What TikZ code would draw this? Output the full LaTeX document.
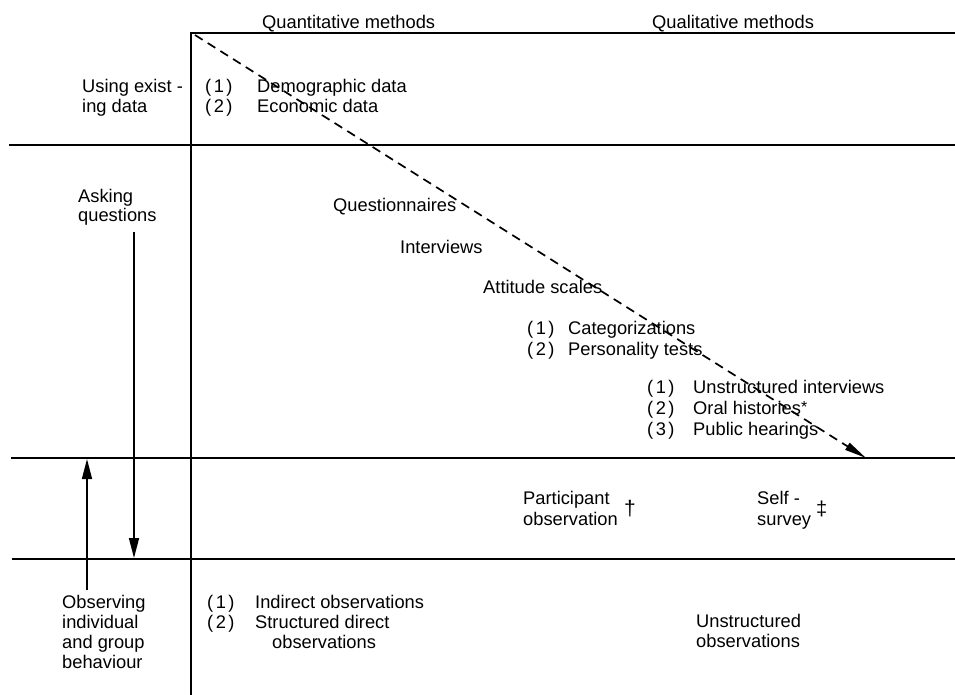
\documentclass[tikz,border=0pt]{standalone}
\usepackage{fontspec}
\setmainfont{Liberation Sans}
\usetikzlibrary{arrows.meta}
\newcommand{\nb}[1]{(\kern2.5pt#1\kern2.5pt)}
\begin{document}
\begin{tikzpicture}[x=1pt,y=-1pt,
  txt/.style={anchor=base west,inner sep=0pt,font=\fontsize{18.3}{21}\selectfont},
  grid/.style={line width=1.9pt,line cap=rect},
  vert/.style={line width=1.5pt,-{Triangle[length=20pt,width=10pt]}},
  diag/.style={line width=1.7pt,dash pattern=on 9pt off 6pt,-{Triangle[length=22pt,width=8pt]}}]
\useasboundingbox (0,0) rectangle (955,694);
% grid
\draw[grid] (191,694) -- (191,33) -- (955,33);
\draw[grid] (10,145) -- (955,145);
\draw[grid] (12,458) -- (955,458);
\draw[grid] (13,559) -- (955,559);
% headings
\node[txt] (quant) at (262,28) {Quantitative methods};
\node[txt] (qual) at (652,28) {Qualitative methods};
% row labels
\node[txt] (use1) at (82,92) {Using exist -};
\node[txt] (use2) at (82,112) {ing data};
\node[txt] (ask1) at (78,202) {Asking};
\node[txt] (ask2) at (78,221) {questions};
\node[txt] (obs1) at (62,608) {Observing};
\node[txt] (obs2) at (62,628) {individual};
\node[txt] (obs3) at (62,648) {and group};
\node[txt] (obs4) at (62,668) {behaviour};
% existing data
\node[txt] (n1a) at (205,92) {\nb{1}};
\node[txt] (demo) at (257,92) {Demographic data};
\node[txt] (n2a) at (205,112) {\nb{2}};
\node[txt] (econ) at (257,112) {Economic data};
% asking questions
\node[txt] (quest) at (333,211) {Questionnaires};
\node[txt] (interv) at (400,253) {Interviews};
\node[txt] (att) at (483,293) {Attitude scales};
\node[txt] (n1b) at (527,334) {\nb{1}};
\node[txt] (cat) at (568,334) {Categorizations};
\node[txt] (n2b) at (527,355) {\nb{2}};
\node[txt] (pers) at (568,355) {Personality tests};
\node[txt] (n1c) at (647,393) {\nb{1}};
\node[txt] (unint) at (693,393) {Unstructured interviews};
\node[txt] (n2c) at (647,414) {\nb{2}};
\node[txt] (oral) at (693,414) {Oral histories\raisebox{2pt}{\fontsize{16}{16}\selectfont *}};
\node[txt] (n3c) at (647,435) {\nb{3}};
\node[txt] (pub) at (693,435) {Public hearings};
% middle band
\node[txt] (part1) at (523,504) {Participant};
\node[txt] (part2) at (523,525) {observation};
\node[txt] (dag) at (624,515) {\fontsize{21}{21}\selectfont\dag};
\node[txt] (self1) at (757,504) {Self -};
\node[txt] (self2) at (757,525) {survey};
\node[txt] (ddag) at (816,515) {\fontsize{20}{20}\selectfont\ddag};
% observing
\node[txt] (n1d) at (207,608) {\nb{1}};
\node[txt] (indir) at (255,608) {Indirect observations};
\node[txt] (n2d) at (207,628) {\nb{2}};
\node[txt] (struc) at (255,628) {Structured direct};
\node[txt] (struc2) at (272,648) {observations};
\node[txt] (unobs1) at (696,627) {Unstructured};
\node[txt] (unobs2) at (696,647) {observations};
% arrows
\coordinate (dA) at (195,35);
\coordinate (dB) at (866,458);
\draw[diag] (dA) -- (dB);
\coordinate (downA) at (134,232);
\coordinate (downB) at (134,558);
\draw[vert] (downA) -- (downB);
\coordinate (upA) at (87,590);
\coordinate (upB) at (87,459);
\draw[vert] (upA) -- (upB);
\end{tikzpicture}
\end{document}
